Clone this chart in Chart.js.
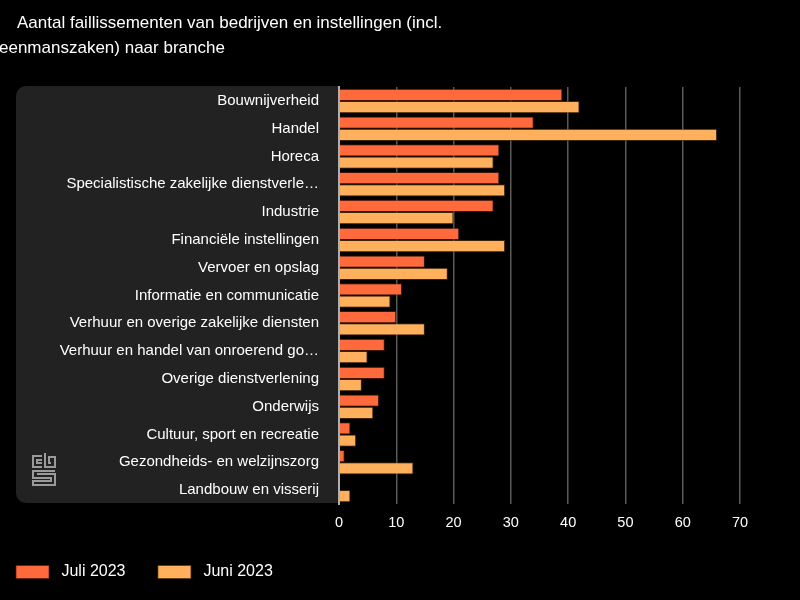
<!DOCTYPE html>
<html><head><meta charset="utf-8">
<script src="https://cdn.jsdelivr.net/npm/chart.js@4/dist/chart.umd.min.js"></script>
<style>
html,body{margin:0;padding:0;background:#000;}
#wrap{position:relative;width:800px;height:600px;overflow:hidden;}
.t{position:absolute;color:#fff;font-family:"Liberation Sans",Arial,sans-serif;font-size:17px;white-space:nowrap;}
canvas{position:absolute;left:0;top:0;}
</style></head>
<body><div id="wrap">
<canvas id="c" width="800" height="600"></canvas>
<div class="t" style="left:17px;top:13px;">Aantal faillissementen van bedrijven en instellingen (incl.</div>
<div class="t" style="left:-1px;top:38px;">eenmanszaken) naar branche</div>
</div>
<script>
const categories = ["Bouwnijverheid","Handel","Horeca","Specialistische zakelijke dienstverle…","Industrie","Financiële instellingen","Vervoer en opslag","Informatie en communicatie","Verhuur en overige zakelijke diensten","Verhuur en handel van onroerend go…","Overige dienstverlening","Onderwijs","Cultuur, sport en recreatie","Gezondheids- en welzijnszorg","Landbouw en visserij"];
const juli2023 = [39,34,28,28,27,21,15,11,10,8,8,7,2,1,0];
const juni2023 = [42,66,27,29,20,29,19,9,15,5,4,6,3,13,2];
const xTicks = [0,10,20,30,40,50,60,70];
const seriesNames = ["Juli 2023","Juni 2023"];

const FONT = '"Liberation Sans", Arial, sans-serif';

const panel = {
  id:'panel',
  afterLayout(chart){ chart.legend.left -= 4; },
  beforeDraw(chart){
    const {ctx, chartArea} = chart;
    const x0=16, x1=chartArea.left, y0=chartArea.top-1, y1=chartArea.bottom-1, r=10;
    ctx.save();
    ctx.fillStyle='#222222';
    ctx.beginPath();
    ctx.moveTo(x1,y0);
    ctx.lineTo(x0+r,y0);
    ctx.arcTo(x0,y0,x0,y0+r,r);
    ctx.lineTo(x0,y1-r);
    ctx.arcTo(x0,y1,x0+r,y1,r);
    ctx.lineTo(x1,y1);
    ctx.closePath();
    ctx.fill();
    // cbs logo (decoration)
    ctx.strokeStyle='#9a9a9a';
    ctx.lineWidth=2;
    const lx=32, ly=453;
    ctx.beginPath();
    // c
    ctx.moveTo(lx+10,ly+3); ctx.lineTo(lx+1,ly+3); ctx.lineTo(lx+1,ly+14); ctx.lineTo(lx+10,ly+14);
    ctx.moveTo(lx+10,ly+7); ctx.lineTo(lx+5,ly+7); ctx.lineTo(lx+5,ly+10); ctx.lineTo(lx+10,ly+10);
    // b
    ctx.moveTo(lx+13,ly); ctx.lineTo(lx+13,ly+14); ctx.lineTo(lx+23,ly+14); ctx.lineTo(lx+23,ly+4); ctx.lineTo(lx+17,ly+4); ctx.lineTo(lx+17,ly+10); ctx.lineTo(lx+19,ly+10);
    // s
    ctx.moveTo(lx+23,ly+18); ctx.lineTo(lx+1,ly+18); ctx.lineTo(lx+1,ly+25); ctx.lineTo(lx+19,ly+25); ctx.lineTo(lx+19,ly+28); ctx.lineTo(lx+1,ly+28); ctx.lineTo(lx+1,ly+32); ctx.lineTo(lx+23,ly+32); ctx.lineTo(lx+23,ly+21); ctx.lineTo(lx+5,ly+21);
    ctx.stroke();
    ctx.restore();
  }
};

new Chart(document.getElementById('c'), {
  type:'bar',
  data:{
    labels:categories,
    datasets:[
      {label:seriesNames[0], data:juli2023, backgroundColor:'#ff6a3d', borderColor:'rgba(90,30,10,0.7)', borderWidth:1},
      {label:seriesNames[1], data:juni2023, backgroundColor:'#ffb05c', borderColor:'rgba(90,50,10,0.7)', borderWidth:1}
    ]
  },
  options:{
    indexAxis:'y',
    responsive:false,
    animation:false,
    devicePixelRatio:1,
    layout:{padding:{top:87,right:60,left:0,bottom:10}},
    datasets:{bar:{categoryPercentage:0.88, barPercentage:1}},
    scales:{
      x:{
        min:0,max:70,
        afterBuildTicks(s){ s.ticks = xTicks.map(v=>({value:v})); },
        grid:{color:'#5a5a5a', lineWidth:1.5, drawTicks:false},
        border:{display:false},
        ticks:{color:'#fff', font:{family:FONT,size:14.5}, padding:10},
        afterFit(s){ s.height=40; }
      },
      y:{
        grid:{display:false},
        border:{display:true,color:'#b0b0b0',width:2},
        ticks:{color:'#fff', font:{family:FONT,size:15}, padding:12, autoSkip:false},
        afterFit(s){ s.width=339; }
      }
    },
    plugins:{
      legend:{
        position:'bottom', align:'start',
        labels:{
          color:'#fff', font:{family:FONT,size:16}, boxWidth:33, boxHeight:13, padding:20,
          generateLabels(chart){
            const items = Chart.defaults.plugins.legend.labels.generateLabels(chart);
            items.forEach(it=>{ it.text = ' ' + it.text + '\u2002 '; });
            return items;
          }
        }
      },
      tooltip:{enabled:false}
    }
  },
  plugins:[panel]
});
</script>
</body></html>
